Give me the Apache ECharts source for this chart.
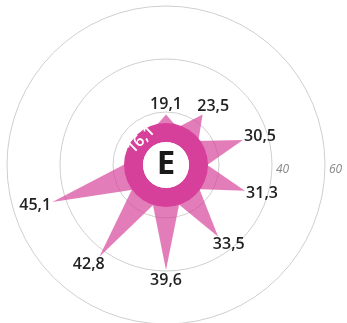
<!DOCTYPE html>
<html>
<head>
<meta charset="utf-8">
<script src="https://cdn.jsdelivr.net/npm/echarts@6/dist/echarts.min.js"></script>
<style>
  html, body { margin: 0; padding: 0; background: #fff; }
  #chart { width: 347px; height: 323px; }
</style>
</head>
<body>
<div id="chart"></div>
<script>
// 角度槽位：10 个，从正上方开始顺时针
const slots = ['s1', 's2', 's3', 's4', 's5', 's6', 's7', 's8', 's9', 's10'];
// 尖角数值（最后两个槽位为空）
const values = [19.1, 23.5, 30.5, 31.3, 33.5, 39.6, 42.8, 45.1, null, null];
// 圆环上的数值与中心字母
const ringValue = 16.1;
const centerLetter = 'E';
// 半径轴
const radiusMax = 60;
const radiusStep = 20;
const labeledTicks = [40, 60];

const fmt = v => v.toFixed(1).replace('.', ',');
const CENTER = [166, 165];
const RADIUS = 159;
const BASE = 14;            // 尖角底边所在半径（数据单位）
const SPREAD = 1.25;        // 底边角宽相对槽位的比例
const PINK = '#d6409a';
const FONT = 'Open Sans';

// ===== 尖角 + 数值标签 =====
function renderSpike(params, api) {
  const v = api.value(0), i = api.value(1);
  const c = api.coord([0, i]);
  const tip = api.coord([v, i]);
  const b = api.coord([BASE, i]);
  const a = Math.atan2(b[1] - c[1], b[0] - c[0]);
  const r = Math.hypot(b[0] - c[0], b[1] - c[1]);
  const half = SPREAD * Math.PI / slots.length;
  const p1 = [c[0] + r * Math.cos(a - half), c[1] + r * Math.sin(a - half)];
  const p2 = [c[0] + r * Math.cos(a + half), c[1] + r * Math.sin(a + half)];
  const ux = Math.cos(a), uy = Math.sin(a);
  return {
    type: 'group',
    children: [
      { type: 'polygon', shape: { points: [p1, tip, p2] }, style: { fill: 'rgba(214,64,154,0.68)' } },
      {
        type: 'text',
        style: {
          text: fmt(v), x: tip[0] + ux * 18, y: tip[1] + uy * 10,
          align: 'center', verticalAlign: 'middle',
          fontSize: 16, fontWeight: 600, fontFamily: FONT, fill: '#222'
        }
      }
    ]
  };
}

const chart = echarts.init(document.getElementById('chart'));
chart.setOption({
  animation: false,
  polar: [
    { center: CENTER, radius: RADIUS },
    { center: CENTER, radius: RADIUS }
  ],
  angleAxis: [
    {
      polarIndex: 0, type: 'category', data: slots, startAngle: 90 + 180 / slots.length,
      clockwise: true, boundaryGap: true, show: false
    },
    { polarIndex: 1, type: 'value', min: 0, max: 360, startAngle: 0, show: false }
  ],
  radiusAxis: [
    { polarIndex: 0, type: 'value', min: 0, max: radiusMax, show: false },
    {
      polarIndex: 1, type: 'value', min: 0, max: radiusMax, interval: radiusStep,
      axisLine: { show: false }, axisTick: { show: false },
      splitLine: { show: true, lineStyle: { color: '#cfcfcf', width: 1 } },
      axisLabel: {
        formatter: v => (labeledTicks.includes(v) ? String(v) : ''),
        margin: -5, align: 'left', verticalAlign: 'middle', padding: [0, 0, 0, 4],
        fontSize: 12, fontStyle: 'italic', color: '#888', fontFamily: FONT
      }
    }
  ],
  series: [
    {
      type: 'custom',
      coordinateSystem: 'polar',
      polarIndex: 0,
      silent: true,
      encode: { radius: 0, angle: 1 },
      data: values.map((v, i) => [v, i]).filter(d => d[0] != null),
      renderItem: renderSpike,
      z: 3
    },
    {
      type: 'pie', center: CENTER, radius: [23, 42], startAngle: 315,
      silent: true, z: 5,
      itemStyle: { color: PINK, borderWidth: 0 },
      label: {
        position: 'inside', rotate: 45, formatter: fmt(ringValue),
        color: '#fff', fontSize: 16, fontWeight: 600, fontFamily: FONT
      },
      labelLine: { show: false },
      data: [{ value: ringValue, name: 'ring' }]
    },
    {
      type: 'pie', center: CENTER, radius: [0, 23],
      silent: true, z: 5,
      itemStyle: { color: '#fff', borderWidth: 0 },
      label: {
        position: 'center', formatter: centerLetter,
        color: '#1a1a1a', fontSize: 33, fontWeight: 'bold', fontFamily: FONT
      },
      labelLine: { show: false },
      data: [{ value: 1, name: centerLetter }]
    }
  ]
});
</script>
</body>
</html>
